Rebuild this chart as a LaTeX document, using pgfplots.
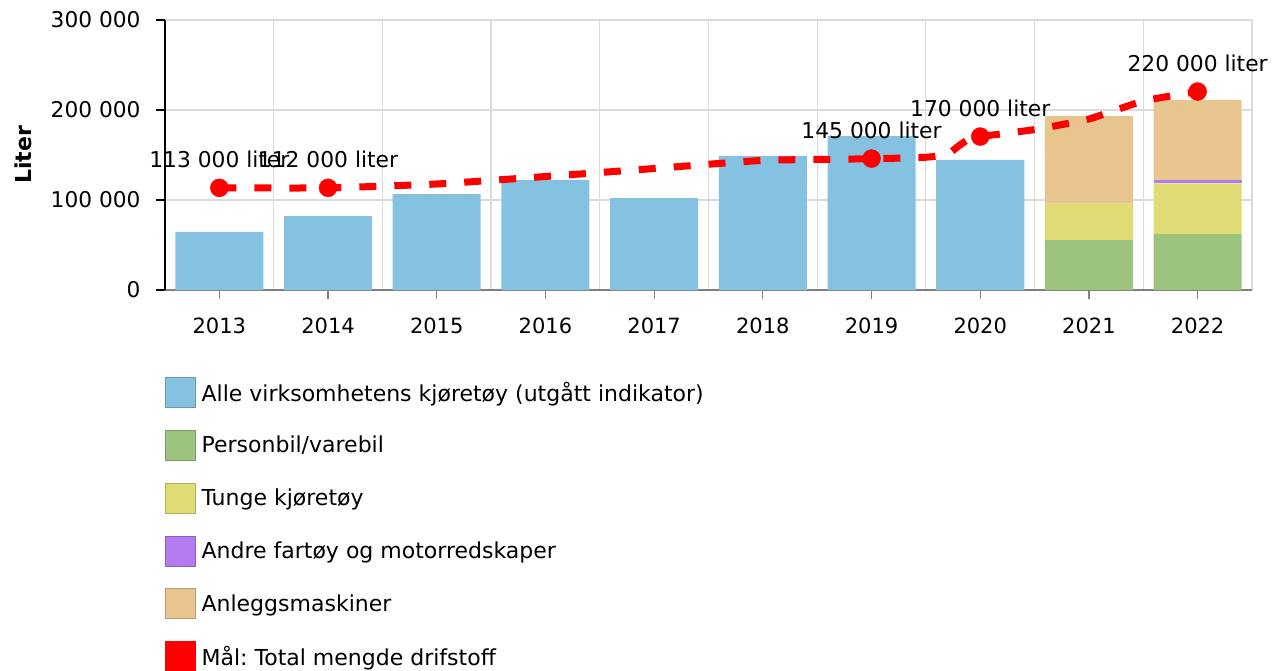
\documentclass[border=0pt]{standalone}
\usepackage{fontspec}
\setmainfont{DejaVu Sans}
\usepackage{pgfplots}
\pgfplotsset{compat=1.18}
\definecolor{cblue}{HTML}{85C1E0}
\definecolor{cgreen}{HTML}{9DC47E}
\definecolor{cyellow}{HTML}{E0DC75}
\definecolor{cpurple}{HTML}{B47AEF}
\definecolor{ctan}{HTML}{E8C48F}
\frenchspacing

\begin{document}
\begin{tikzpicture}[x=1pt,y=1pt]
\useasboundingbox (0,0) rectangle (1283,-670);
\pgfplotsset{
  base/.style={
    at={(165pt,-290pt)}, anchor=south west,
    scale only axis, width=1087pt, height=270pt,
    xmin=2012.5, xmax=2022.5, ymin=0, ymax=300000,
  }
}
% bars
\begin{axis}[base, clip=false,
  axis lines*=left,
  x axis line style={draw=gray, line width=1.6pt},
  y axis line style={draw=black, line width=1.6pt},
  ybar stacked, bar width=88pt,
  xtick={2013,2014,2015,2016,2017,2018,2019,2020,2021,2022},
  xticklabels={2013,2014,2015,2016,2017,2018,2019,2020,2021,2022},
  ytick={0,100000,200000,300000},
  yticklabels={0,100 000,200 000,300 000},
  scaled y ticks=false,
  tick align=outside, major tick length=9pt,
  x tick style={gray, line width=1.2pt},
  y tick style={black, line width=1.2pt},
  minor xtick={2013.5,2014.5,2015.5,2016.5,2017.5,2018.5,2019.5,2020.5,2021.5,2022.5},
  minor tick length=0pt,
  xminorgrids=true, ymajorgrids=true,
  grid style={gray!28, line width=1.2pt},
  xticklabel style={font=\fontsize{21}{25}\selectfont, yshift=-15pt},
  yticklabel style={font=\fontsize{21.7}{25}\selectfont, xshift=-12pt},
]
% Alle virksomhetens kjoretoy
\addplot[fill=cblue, draw=none] coordinates {
  (2013,64500)(2014,82000)(2015,106500)(2016,122000)(2017,102000)
  (2018,149000)(2019,171000)(2020,144500)(2021,0)(2022,0)};
% Personbil/varebil
\addplot[fill=cgreen, draw=none] coordinates {
  (2013,0)(2014,0)(2015,0)(2016,0)(2017,0)
  (2018,0)(2019,0)(2020,0)(2021,55500)(2022,62000)};
% Tunge kjoretoy
\addplot[fill=cyellow, draw=none] coordinates {
  (2013,0)(2014,0)(2015,0)(2016,0)(2017,0)
  (2018,0)(2019,0)(2020,0)(2021,40500)(2022,56500)};
% Andre fartoy og motorredskaper
\addplot[fill=cpurple, draw=none] coordinates {
  (2013,0)(2014,0)(2015,0)(2016,0)(2017,0)
  (2018,0)(2019,0)(2020,0)(2021,0)(2022,3700)};
% Anleggsmaskiner
\addplot[fill=ctan, draw=none] coordinates {
  (2013,0)(2014,0)(2015,0)(2016,0)(2017,0)
  (2018,0)(2019,0)(2020,0)(2021,97300)(2022,89000)};
\node[xshift=-141.5pt, rotate=90, font=\fontsize{22}{26}\selectfont\bfseries]
  at (rel axis cs:0,0.5) {Liter};
\end{axis}
% target line, markers and legend
\begin{axis}[base, hide axis, clip=false,
  legend image code/.code={\draw[#1] (0pt,-15pt) rectangle (30pt,15pt);},
  legend cell align=left,
  legend style={at={(axis description cs:0,0)}, anchor=north west,
    xshift=0pt, yshift=-87pt, draw=none, fill=none, inner sep=0pt,
    row sep=22.4pt, font=\fontsize{22}{26}\selectfont,
    /tikz/every odd column/.append style={column sep=4pt}},
]
\addlegendimage{fill=cblue, draw=cblue!80!black}
\addlegendimage{fill=cgreen, draw=cgreen!80!black}
\addlegendimage{fill=cyellow, draw=cyellow!80!black}
\addlegendimage{fill=cpurple, draw=cpurple!80!black}
\addlegendimage{fill=ctan, draw=ctan!80!black}
\addlegendimage{fill=red, draw=red}
\addplot[red, line width=7pt, dash pattern=on 17pt off 18pt, smooth, tension=0.3, forget plot] coordinates {
  (2013,113500)(2014,113500)(2015,117800)(2016,126100)(2017,135000)
  (2018,144000)(2019,145800)(2019.5,147500)(2019.7,151000)(2019.8,160000)
  (2019.9,168000)(2020,170500)(2020.5,178300)(2021,190000)(2021.5,210000)
  (2022,220500)};
\addplot[only marks, mark=*, mark size=9pt, red, forget plot,
  point meta=explicit symbolic, nodes near coords,
  nodes near coords style={font=\fontsize{21.8}{25}\selectfont, text=black,
    anchor=south, inner sep=0pt, yshift=20pt}] coordinates {
  (2013,113500) [113 000 liter]
  (2014,113500) [112 000 liter]
  (2019,146000) [145 000 liter]
  (2020,170500) [170 000 liter]
  (2022,220500) [220 000 liter]};
\legend{Alle virksomhetens kjøretøy (utgått indikator),Personbil/varebil,Tunge kjøretøy,Andre fartøy og motorredskaper,Anleggsmaskiner,Mål: Total mengde drifstoff}
\end{axis}
\end{tikzpicture}
\end{document}
